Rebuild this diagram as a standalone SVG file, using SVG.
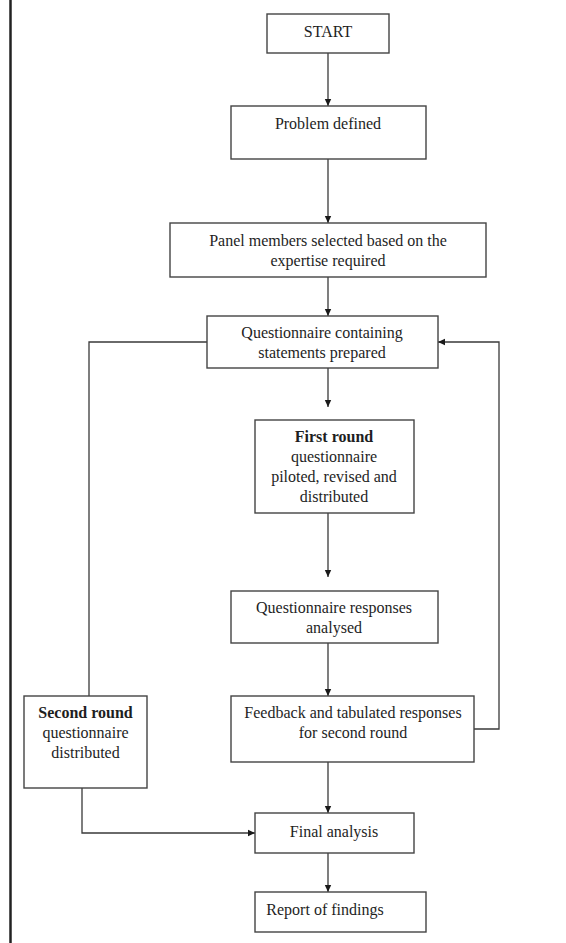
<svg xmlns="http://www.w3.org/2000/svg" width="566" height="943" viewBox="0 0 566 943">
<defs>
<marker id="ah" markerWidth="8" markerHeight="8" refX="7" refY="4" orient="auto" markerUnits="userSpaceOnUse">
<path d="M0,0.8 L7,4 L0,7.2 Z" fill="#1a1a1a"/>
</marker>
<style>
.box{fill:#fff;stroke:#444;stroke-width:1.4}
.t{font-family:"Liberation Serif","Times New Roman",serif;font-size:16px;fill:#1e1e1e;text-anchor:middle}
.b{font-weight:bold}
.c{fill:none;stroke:#3a3a3a;stroke-width:1.3}
</style>
</defs>
<rect width="566" height="943" fill="#fff"/>
<line x1="10.5" y1="0" x2="10.5" y2="943" stroke="#222" stroke-width="2.5"/>
<g id="connectors">
<line class="c" x1="328" y1="53" x2="328" y2="106" marker-end="url(#ah)"/>
<line class="c" x1="328" y1="159" x2="328" y2="223" marker-end="url(#ah)"/>
<line class="c" x1="328" y1="277" x2="328" y2="316" marker-end="url(#ah)"/>
<line class="c" x1="328" y1="368" x2="328" y2="407" marker-end="url(#ah)"/>
<line class="c" x1="328" y1="513" x2="328" y2="577" marker-end="url(#ah)"/>
<line class="c" x1="328" y1="643" x2="328" y2="696" marker-end="url(#ah)"/>
<line class="c" x1="328" y1="762" x2="328" y2="813" marker-end="url(#ah)"/>
<line class="c" x1="328" y1="853" x2="328" y2="892" marker-end="url(#ah)"/>
<polyline class="c" points="207,342 89,342 89,696"/>
<polyline class="c" points="82,788 82,833 255,833" marker-end="url(#ah)"/>
<polyline class="c" points="474,729 499,729 499,342 438,342" marker-end="url(#ah)"/>
</g>
<g id="start">
<rect class="box" x="267" y="14" width="122" height="39"/>
<text class="t" x="328" y="37">START</text>
</g>
<g id="problem">
<rect class="box" x="231" y="106" width="195" height="53"/>
<text class="t" x="328" y="129">Problem defined</text>
</g>
<g id="panel">
<rect class="box" x="170" y="223" width="316" height="54"/>
<text class="t" x="328" y="246">Panel members selected based on the</text>
<text class="t" x="328" y="266">expertise required</text>
</g>
<g id="questionnaire">
<rect class="box" x="207" y="316" width="231" height="52"/>
<text class="t" x="322" y="338">Questionnaire containing</text>
<text class="t" x="322" y="358">statements prepared</text>
</g>
<g id="first-round">
<rect class="box" x="255" y="420" width="159" height="93"/>
<text class="t b" x="334" y="442">First round</text>
<text class="t" x="334" y="462">questionnaire</text>
<text class="t" x="334" y="482">piloted, revised and</text>
<text class="t" x="334" y="502">distributed</text>
</g>
<g id="responses">
<rect class="box" x="231" y="591" width="207" height="52"/>
<text class="t" x="334" y="613">Questionnaire responses</text>
<text class="t" x="334" y="633">analysed</text>
</g>
<g id="feedback">
<rect class="box" x="231" y="696" width="243" height="66"/>
<text class="t" x="353" y="718">Feedback and tabulated responses</text>
<text class="t" x="353" y="738">for second round</text>
</g>
<g id="second-round">
<rect class="box" x="24" y="696" width="123" height="92"/>
<text class="t b" x="85.5" y="718">Second round</text>
<text class="t" x="85.5" y="738">questionnaire</text>
<text class="t" x="85.5" y="758">distributed</text>
</g>
<g id="final">
<rect class="box" x="255" y="813" width="159" height="40"/>
<text class="t" x="334" y="837">Final analysis</text>
</g>
<g id="report">
<rect class="box" x="255" y="892" width="171" height="40"/>
<text class="t" x="325" y="915">Report of findings</text>
</g>
</svg>
